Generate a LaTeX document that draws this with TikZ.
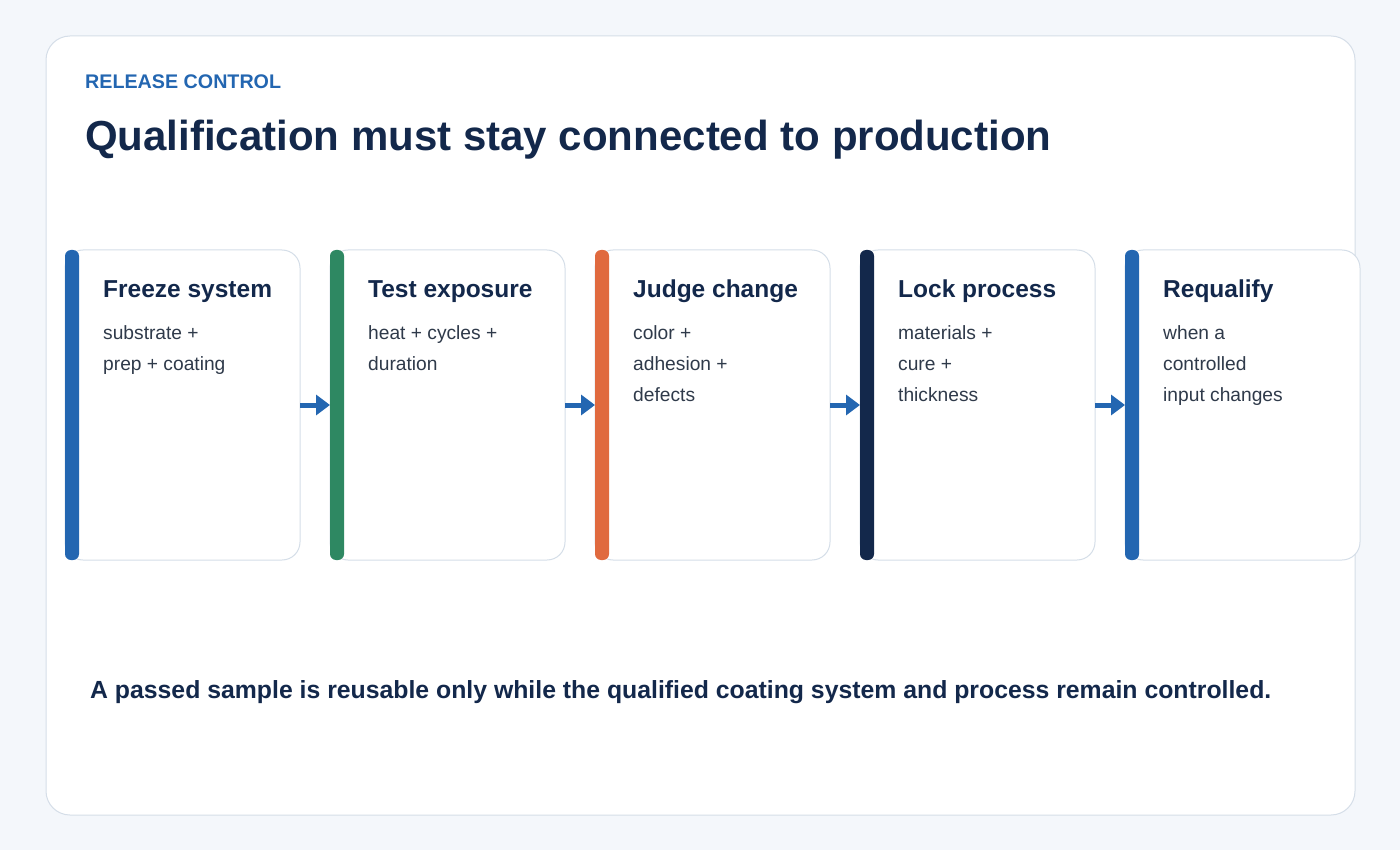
\documentclass[tikz,border=0pt]{standalone}
\usepackage{fontspec}
\setmainfont{Liberation Sans}
\usetikzlibrary{positioning,arrows.meta}
\definecolor{pagebg}{HTML}{F4F7FB}
\definecolor{edge}{HTML}{D5DEE8}
\definecolor{ink}{HTML}{13284B}
\definecolor{body}{HTML}{2F3A4A}
\definecolor{cblue}{HTML}{2366B1}
\definecolor{cgreen}{HTML}{2E8862}
\definecolor{corange}{HTML}{E06A3F}
\definecolor{cnavy}{HTML}{13284B}
\tikzset{
  card/.style={draw=edge,fill=white,rounded corners=18pt,line width=1pt},
  bar/.style={rounded corners=6pt},
  head/.style={anchor=base west,font=\fontsize{24.5}{28}\selectfont\bfseries,text=ink,inner sep=0pt},
  txt/.style={anchor=north west,font=\fontsize{19.2}{31}\selectfont,text=body,inner sep=0pt,align=left},
  flow/.style={cblue,line width=5pt,-{Triangle[length=14pt,width=20pt]}}
}
\begin{document}
\begin{tikzpicture}[x=1pt,y=-1pt]
\fill[pagebg] (0,0) rectangle (1400,850);
\draw[card,rounded corners=24pt] (46,36) rectangle (1355,815);
\node[anchor=base west,inner sep=0pt,text=cblue,font=\fontsize{19.7}{22}\selectfont\bfseries] (kicker) at (85,89) {RELEASE CONTROL};
\node[anchor=base west,inner sep=0pt,text=ink,font=\fontsize{42}{46}\selectfont\bfseries] (title) at (85,151) {Qualification must stay connected to production};
\foreach \i/\c/\h/\t in {
  0/cblue/Freeze system/{substrate +\\prep + coating},
  1/cgreen/Test exposure/{heat + cycles +\\duration},
  2/corange/Judge change/{color +\\adhesion +\\defects},
  3/cnavy/Lock process/{materials +\\cure +\\thickness},
  4/cblue/Requalify/{when a\\controlled\\input changes}} {
  \pgfmathsetmacro{\xl}{65+265*\i}
  \draw[card] (\xl,250) rectangle ++(235,310);
  \fill[bar,\c] (\xl,250) rectangle ++(14,310);
  \coordinate (in\i) at (\xl,405);
  \coordinate (out\i) at (\xl+235,405);
  \node[head] (h\i) at (\xl+38,298) {\h};
  \node[txt] (t\i) at (\xl+38,325) {\t};
}
\foreach \i/\j in {0/1,1/2,2/3,3/4}
  \draw[flow] (out\i) -- (in\j);
\node[anchor=base west,inner sep=0pt,text=ink,font=\fontsize{24.8}{28}\selectfont\bfseries] (note) at (90,698) {A passed sample is reusable only while the qualified coating system and process remain controlled.};
\end{tikzpicture}
\end{document}
